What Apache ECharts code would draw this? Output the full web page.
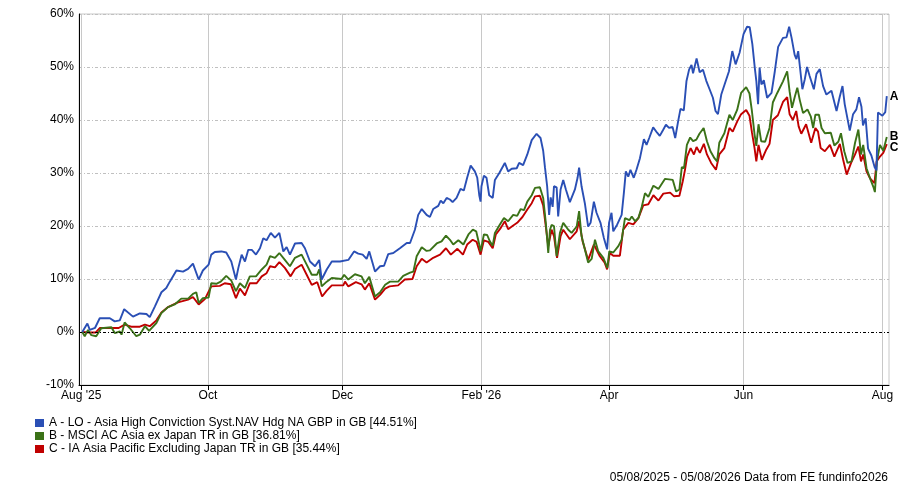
<!DOCTYPE html>
<html>
<head>
<meta charset="utf-8">
<script src="https://cdn.jsdelivr.net/npm/echarts@6/dist/echarts.min.js"></script>
<style>
  html, body { margin: 0; padding: 0; background: #fff; }
  #chart { width: 900px; height: 484px; }
</style>
</head>
<body>
<div id="chart"></div>
<script>
// x values are days since 04/08/2025, y values are cumulative % return
const seriesNames = [
  'A - LO - Asia High Conviction Syst.NAV Hdg NA GBP in GB [44.51%]',
  'B - MSCI AC Asia ex Japan TR in GB [36.81%]',
  'C - IA Asia Pacific Excluding Japan TR in GB [35.44%]'
];
const endTags = ['A', 'B', 'C'];

// month ticks (first trading day of the month)
const tickDays = [0.5, 58, 119, 182, 240, 301, 364];
const tickLabels = ["Aug '25", 'Oct', 'Dec', "Feb '26", 'Apr', 'Jun', 'Aug'];

const fundA = [[1,0],[3.3,1.6],[4.4,0.4],[6.8,0.8],[8.9,2.6],[13.5,2.6],[15.7,2.0],[18,2.2],[20,4.3],[24,2.9],[27.1,3.5],[30.1,3.4],[31.6,2.8],[33.9,4.8],[36.9,7.5],[39.1,8.3],[40.7,9.5],[43.7,11.6],[46.7,11.4],[49,11.9],[51.2,12.9],[53.8,9.9],[55.7,11.6],[58.3,12.7],[59.5,14.6],[61.1,15.1],[64.1,15.2],[66.3,15.0],[68.6,13.3],[70.7,9.9],[71.8,12.1],[73.3,14.6],[74.8,13.3],[76.3,15.5],[77.9,15.5],[79.8,14.6],[81.6,15.8],[83.1,17.7],[84.6,17.3],[86.5,18.7],[88.4,17.8],[90.4,18.7],[92.2,15.2],[93.7,16.0],[95.2,14.6],[97.5,16.7],[100.5,16.8],[102,15.8],[104.3,13.3],[106.6,12.4],[108.5,13.6],[109.6,9.9],[111.9,11.8],[114.2,13.3],[117.9,13.3],[121.7,13.6],[124.3,15.2],[126.2,14.8],[128.2,14.6],[130,13.8],[131.2,15.2],[133.8,11.4],[136.1,12.4],[137.9,12.5],[139.8,14.7],[142.1,14.9],[145.1,15.8],[148.2,16.8],[149.7,16.8],[151.9,19.3],[153.4,22.1],[155,23.2],[157.2,22.1],[158.7,21.7],[160.2,23.2],[162.5,23.8],[163.6,24.8],[164.8,24.3],[166.3,25.3],[167.8,25.0],[169,24.5],[170.8,25.3],[172.6,27.0],[174.1,26.7],[175.6,29.1],[177.2,31.4],[179.1,30.3],[180.2,29.1],[181.1,25.8],[181.7,24.6],[182.1,27.5],[183.2,29.5],[184.4,29.1],[185.6,25.8],[187.2,25.3],[188.2,28.7],[190.2,30.0],[192.7,31.9],[194.2,30.3],[195.8,30.8],[198.1,30.9],[199.2,31.9],[201,31.5],[202.9,33.5],[204.9,36.2],[207.1,37.4],[208.9,36.6],[210.1,34.2],[210.9,31.1],[211.9,27.5],[212.8,22.1],[213.5,25.4],[214.4,23.6],[215,27.5],[216.2,27.3],[216.9,21.8],[218,26.9],[219.2,28.7],[220.4,26.9],[222.2,24.5],[224.5,26.9],[225.7,29.1],[226.4,31.0],[227.5,27.5],[229,24.3],[230.5,19.9],[231.6,20.6],[233.1,24.6],[234.3,22.5],[236.1,20.6],[237.6,17.8],[239.1,15.6],[240,20.6],[241.1,22.5],[241.9,19.0],[243.7,20.3],[245.7,22.1],[246.7,26.2],[247.6,30.3],[248.7,29.3],[249.7,30.6],[251.2,29.1],[252.5,30.7],[254,32.8],[255.8,36.4],[257,35.3],[258.2,36.6],[260,38.6],[261.8,37.6],[263,37.0],[264.5,38.1],[265.8,39.1],[267.2,38.5],[268.8,38.7],[270,36.6],[271.3,39.7],[272.4,42.1],[273.9,41.8],[275.1,47.3],[276.3,49.5],[277.4,50.4],[278.1,48.8],[279.7,51.6],[281.1,49.0],[282.6,49.5],[284.1,47.4],[285.6,45.8],[287.1,44.2],[288.3,41.7],[289.4,41.1],[290.9,44.8],[292.4,46.7],[294.4,49.2],[295.9,53.0],[297.4,50.5],[299.2,52.7],[301,56.2],[302.6,57.6],[303.8,57.5],[305,54.3],[306.1,49.9],[306.8,47.4],[307.6,43.0],[308.3,49.9],[309.1,46.7],[310.2,47.5],[311.7,44.2],[313.7,45.1],[315.2,49.2],[316.7,53.8],[318.9,55.5],[320.5,55.6],[321.7,57.6],[322.8,55.5],[324.2,52.3],[325,51.5],[325.8,53.0],[326.8,49.2],[327.7,45.8],[328.8,47.7],[329.8,50.0],[331,48.3],[332.9,45.8],[334.1,48.7],[335.6,49.6],[337.1,46.4],[338.6,44.8],[340.9,45.5],[343.2,41.7],[344.6,44.3],[345.9,46.4],[346.9,43.0],[349.2,38.0],[350.7,41.1],[352.2,42.0],[353.4,44.3],[354.5,42.5],[355.2,39.0],[356.4,40.3],[357.5,34.6],[359,33.3],[360.5,31.1],[361.3,30.5],[362,41.4],[364,40.8],[365.3,41.5],[366,44.51]];

const indexB = [[1,0],[2.1,-0.8],[3.6,0.4],[5.1,-0.6],[7.3,-0.8],[9.6,0.7],[14.2,0.9],[15.7,-0.2],[18,0.1],[18.8,-0.5],[20.2,1.8],[22.5,0.75],[25.5,-0.8],[27.1,-0.5],[29.4,1.1],[31.3,0.2],[34.6,1.7],[36.9,3.6],[39.9,4.7],[42.9,5.2],[45.9,6.3],[49,6.3],[51.2,7.2],[52.7,7.5],[53.8,5.5],[55.7,6.4],[58.3,6.5],[59.5,9.2],[61.8,9.1],[63.8,9.5],[66.3,10.6],[68.6,9.7],[70.7,7.7],[72.5,9.2],[74.8,8.3],[77,10.5],[79.8,10.5],[82.4,11.8],[84.6,12.7],[86.2,14.3],[88.4,14.0],[90.4,14.9],[92.9,13.6],[95.2,12.4],[97.5,14.0],[100.5,14.6],[102.8,12.7],[105.1,10.8],[107.5,10.8],[108.5,11.8],[109.6,8.6],[111.9,9.5],[114.2,10.2],[118.6,10.0],[119.8,10.8],[121.7,9.9],[124.7,10.9],[127.7,10.5],[129.2,9.2],[131.2,10.4],[133.8,6.7],[136.1,7.5],[138.4,8.9],[140.6,9.5],[144.3,9.5],[146.6,10.6],[149.7,11.2],[151.2,11.4],[152.7,14.3],[155,16.0],[157.2,15.3],[158.7,15.4],[161.8,16.7],[164,17.1],[166,18.2],[167.8,17.4],[169.3,16.5],[171.6,17.3],[173.9,16.5],[176.2,18.4],[178.2,19.3],[179.7,19.0],[181.1,16.5],[181.7,15.2],[183.2,18.4],[184.7,18.3],[185.9,17.1],[187.2,16.3],[188.2,18.7],[190.2,20.1],[192.3,21.5],[194.2,20.9],[196.5,22.1],[198.3,21.9],[199.9,23.2],[201.4,23.0],[202.9,24.6],[204.9,25.8],[206.4,27.2],[207.1,27.5],[208.6,27.3],[210.1,25.3],[211.3,20.6],[212.4,14.9],[213.2,19.3],[213.9,20.2],[215,20.0],[216.2,14.3],[217.7,18.7],[219.2,20.6],[221.5,19.3],[223,18.7],[225.3,19.9],[226.4,22.8],[227.5,18.1],[229,15.6],[230.5,13.1],[232.1,13.8],[233.6,17.4],[235.1,15.2],[237.4,14.0],[239.2,12.1],[240.1,15.2],[241.9,15.0],[244.2,16.2],[245.7,17.4],[247.2,21.5],[249.2,21.1],[250.3,21.8],[251.8,20.9],[253.3,21.5],[254.8,23.6],[256.3,26.2],[257.8,25.5],[260.1,27.6],[262.4,27.0],[265.4,28.9],[268.9,28.7],[270.4,26.5],[271.9,26.9],[273,31.1],[274,30.9],[275.3,35.3],[276.8,36.7],[278.1,36.0],[279.6,36.3],[281,37.4],[282.9,38.5],[284.4,36.0],[286,34.1],[287.8,32.8],[289,32.2],[290,35.7],[292.3,37.5],[294.6,41.0],[296.1,40.0],[298.1,41.9],[299.9,45.1],[302.2,46.2],[303.7,45.0],[304.8,41.7],[306,37.3],[306.8,35.1],[307.8,39.2],[309,36.0],[310.8,35.9],[312.8,38.5],[314.3,43.3],[316.3,45.1],[318.9,47.3],[320.8,49.2],[321.9,45.4],[323,42.3],[324.2,44.3],[325.4,46.1],[326.5,43.8],[328,41.3],[330,42.0],[331.5,40.7],[332.6,38.5],[333.6,41.0],[335.2,41.0],[336.4,38.5],[337.9,37.5],[340.6,37.6],[342.2,35.2],[344,35.9],[345.2,37.5],[346.7,34.1],[348.2,31.9],[350,32.2],[351.6,35.7],[353.1,38.2],[354.3,33.5],[355.3,35.3],[356.8,30.9],[358.4,29.0],[359.9,27.4],[360.6,26.4],[361.5,32.2],[362.9,35.3],[364.4,34.2],[366,36.81]];

const sectorC = [[1,0],[4,-0.1],[7,-0.1],[8.9,0.75],[14.2,0.75],[17.5,0.75],[20.2,1.4],[23.2,1.0],[27.1,1.0],[29.4,1.4],[31.6,1.1],[34.6,2.2],[36.9,3.7],[39.9,4.7],[44.4,5.6],[49,6.1],[51.2,6.6],[53.8,5.2],[56.6,6.2],[59.5,8.6],[63.4,8.7],[65.6,9.2],[68.4,9.0],[70.7,6.4],[72.5,8.2],[74.8,6.9],[77,9.2],[80.1,9.2],[82.4,10.5],[84.6,11.1],[86.2,12.4],[88.4,12.2],[90.4,13.2],[92.9,12.1],[95.5,10.5],[97.5,11.9],[100.5,12.7],[102.8,10.8],[105.1,8.9],[107.6,9.4],[109.8,6.7],[111.9,7.8],[114.2,8.8],[119.4,8.8],[120.2,9.5],[121.7,8.6],[125.1,9.4],[127.7,9.0],[129.2,8.0],[131.2,9.2],[133.8,6.1],[136.1,7.0],[138.4,8.2],[140.4,8.6],[144.3,8.8],[147.3,9.9],[150.8,10.0],[152.7,12.4],[155,13.8],[157.2,13.1],[160.2,14.0],[163.3,14.6],[166,15.8],[168.2,14.6],[171.2,15.7],[173.7,14.6],[175.6,16.5],[178.1,17.4],[179.9,17.0],[181.7,14.6],[183.2,17.3],[185.2,17.0],[187.2,15.8],[188.6,18.4],[190.8,19.6],[192.7,20.9],[194.2,19.4],[196.5,20.1],[198.3,20.6],[200.7,21.7],[202.9,23.1],[204.9,24.3],[206.4,25.6],[207.1,25.8],[208.6,25.7],[210.1,23.9],[211.3,19.9],[212.4,16.2],[213.9,19.3],[215,18.1],[216.4,14.0],[218,18.1],[219.2,19.3],[222.2,17.5],[225.3,19.0],[226.4,20.9],[228,17.1],[230.5,13.6],[233.1,16.5],[235.8,14.3],[238,13.1],[239.1,11.8],[240.3,14.9],[241.9,14.4],[244.9,14.4],[246.4,19.3],[248.7,20.6],[251,20.3],[253.3,21.5],[255.5,23.9],[257.8,24.1],[260.1,25.8],[262.4,24.8],[264.6,26.1],[267.7,26.3],[269.5,25.6],[271.9,25.7],[273.4,28.4],[274.4,30.5],[275.4,33.1],[277,34.7],[278.5,33.5],[279.7,34.9],[281.2,33.8],[283,35.5],[284.4,33.5],[286.3,31.9],[288.5,30.6],[290,33.5],[292.3,34.7],[294.6,38.5],[296.1,37.8],[298.1,39.7],[299.9,41.1],[302.2,41.9],[303.7,40.8],[304.8,37.7],[306,34.7],[306.8,32.2],[307.8,35.3],[309.3,32.5],[311.3,34.4],[312.8,35.5],[314.3,40.0],[316.6,40.9],[318.9,43.4],[320.8,44.3],[321.9,41.1],[323.4,40.0],[324.9,41.7],[326,38.8],[327.2,37.4],[329.4,39.2],[331.7,35.7],[333.6,38.5],[334.8,37.8],[336,34.7],[337.9,34.1],[340.2,35.3],[342.2,33.1],[344.7,35.5],[346.2,32.5],[347.8,29.7],[349.8,31.9],[351.6,33.5],[353.1,35.0],[354.3,32.2],[355.3,33.5],[356.8,30.3],[358.4,29.0],[360.4,28.1],[361.4,32.2],[362.9,33.1],[364.4,33.8],[366,35.44]];

const colors = ['#2a4fb5', '#3b7218', '#c00000'];
const font = "'Liberation Sans', Arial, sans-serif";

const chart = echarts.init(document.getElementById('chart'));

function lineSeries(i, data, z, labelOffset) {
  return {
    name: seriesNames[i],
    type: 'line',
    data: data,
    z: z,
    showSymbol: false,
    symbol: 'none',
    lineStyle: { width: 1.9, color: colors[i] },
    itemStyle: { color: colors[i] },
    emphasis: { disabled: true },
    endLabel: {
      show: true,
      formatter: endTags[i],
      color: '#000',
      fontFamily: font,
      fontWeight: 'bold',
      fontSize: 12,
      distance: 3,
      offset: labelOffset
    }
  };
}

const sC = lineSeries(2, sectorC, 2, [0, 4]);
const sB = lineSeries(1, indexB, 3, [0, 0]);
const sA = lineSeries(0, fundA, 4, [0, 1]);
sA.markLine = {
  silent: true,
  symbol: 'none',
  label: { show: false },
  lineStyle: { color: '#000', type: [3, 2, 1, 2], width: 1 },
  data: [{ yAxis: 0 }]
};

chart.setOption({
  animation: false,
  backgroundColor: '#fff',
  grid: {
    left: 79, right: 11, top: 14, bottom: 99,
    show: true, borderColor: '#c8c8c8', borderWidth: 1
  },
  legend: {
    orient: 'vertical',
    left: 35,
    top: 417,
    padding: 0,
    itemWidth: 9,
    itemHeight: 8,
    itemGap: 1,
    icon: 'rect',
    selectedMode: false,
    data: seriesNames,
    textStyle: { fontFamily: font, fontSize: 12, color: '#000' }
  },
  xAxis: {
    type: 'value',
    min: -0.5,
    max: 367,
    axisLine: { show: true, onZero: false, lineStyle: { color: '#000', width: 1 } },
    axisTick: { show: true, length: 5, customValues: tickDays, lineStyle: { color: '#000' } },
    axisLabel: {
      customValues: tickDays,
      margin: 5,
      color: '#000',
      fontFamily: font,
      fontSize: 12,
      formatter: function (v) { return tickLabels[tickDays.indexOf(v)]; }
    },
    splitLine: { show: true, lineStyle: { color: '#c8c8c8', width: 1 } }
  },
  yAxis: {
    type: 'value',
    min: -10,
    max: 60,
    interval: 10,
    axisLine: { show: true, onZero: false, lineStyle: { color: '#000', width: 1 } },
    axisTick: { show: false },
    axisLabel: {
      formatter: '{value}%',
      margin: 5,
      color: '#000',
      fontFamily: font,
      fontSize: 12
    },
    splitLine: { show: true, lineStyle: { color: '#c0c0c0', width: 1, type: [3, 2, 1, 2] } }
  },
  graphic: [{
    type: 'text',
    right: 12,
    top: 472,
    style: {
      text: '05/08/2025 - 05/08/2026 Data from FE fundinfo2026',
      fill: '#000',
      font: "12px 'Liberation Sans', Arial, sans-serif"
    }
  }],
  series: [sA, sB, sC]
});
</script>
</body>
</html>
